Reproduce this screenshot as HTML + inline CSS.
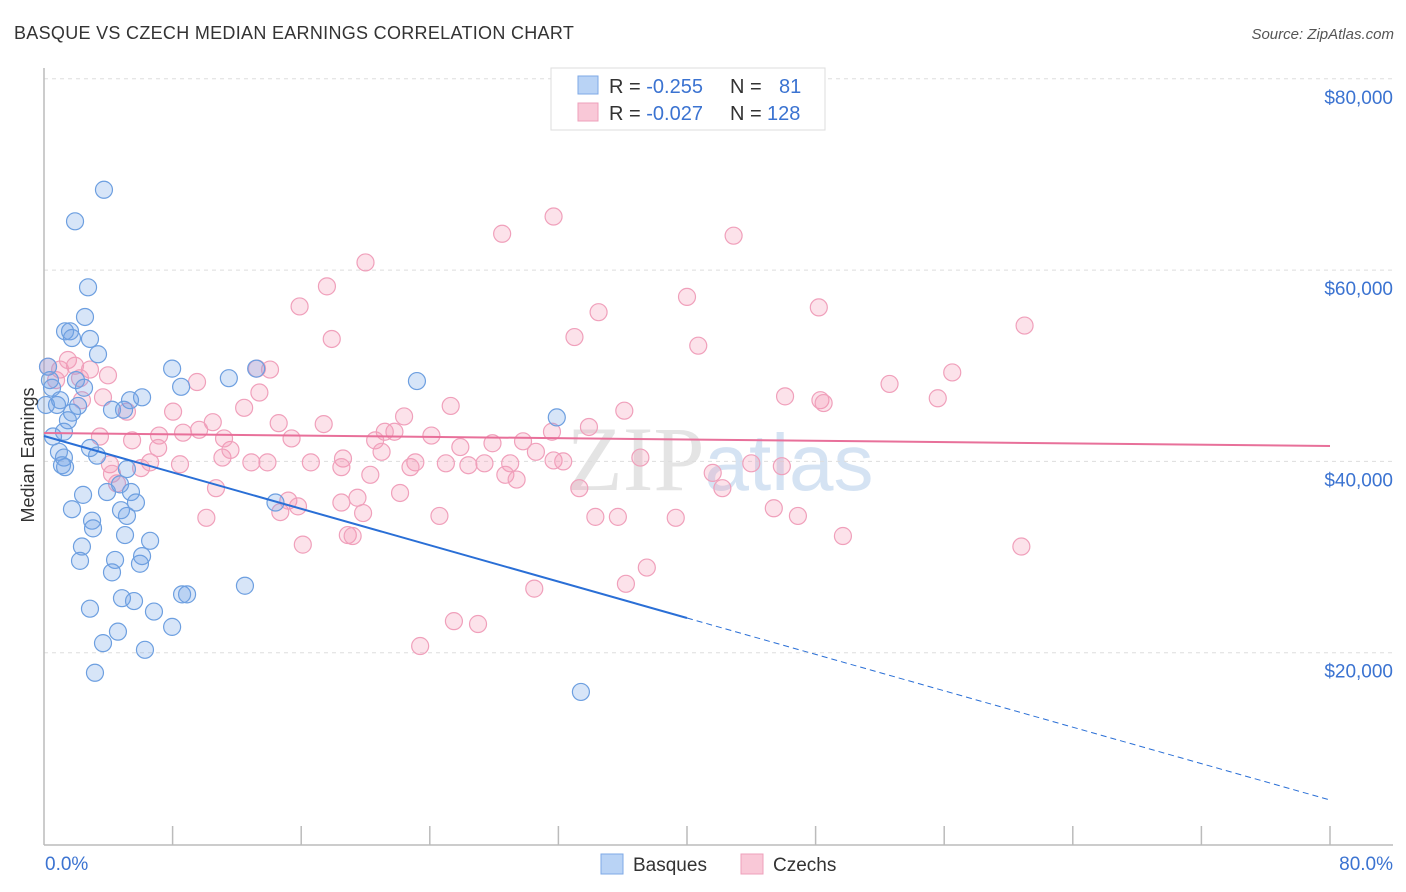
<!DOCTYPE html>
<html><head><meta charset="utf-8"><style>
body{margin:0;background:#fff;font-family:"Liberation Sans",sans-serif;}
svg{display:block}
</style></head><body>
<svg id="c" width="1406" height="892" xmlns="http://www.w3.org/2000/svg">
<text x="14" y="39" font-size="18" fill="#333" letter-spacing="0.3">BASQUE VS CZECH MEDIAN EARNINGS CORRELATION CHART</text>
<text x="1394" y="39" font-size="15" fill="#555" font-style="italic" text-anchor="end">Source: ZipAtlas.com</text>
<text x="720" y="490" font-size="92" fill="#e4e4e4" text-anchor="middle" font-family="Liberation Serif,serif">ZIP<tspan font-family="Liberation Sans,sans-serif" fill="#d5e3f3" font-size="80">atlas</tspan></text>
<g id="grid"></g>
<g id="axes"></g>
<g id="pts"></g>
<g id="trend"></g>
<text transform="translate(34,455) rotate(-90)" font-size="18" fill="#333" text-anchor="middle">Median Earnings</text>
<g>
<rect x="551" y="68" width="274" height="62" fill="#fff" stroke="#ddd"/>
<rect x="578" y="76" width="20" height="18" fill="#b9d3f5" stroke="#7ea8e6"/>
<rect x="578" y="103" width="20" height="18" fill="#f9c8d7" stroke="#eea0bb"/>
<text x="609" y="93" font-size="20" fill="#333">R = <tspan fill="#3b73d1">-0.255</tspan><tspan x="730">N =</tspan><tspan x="779" fill="#3b73d1">81</tspan></text>
<text x="609" y="120" font-size="20" fill="#333">R = <tspan fill="#3b73d1">-0.027</tspan><tspan x="730">N =</tspan><tspan x="767" fill="#3b73d1">128</tspan></text>
</g>
<g>
<rect x="601" y="854" width="22" height="20" fill="#b9d3f5" stroke="#7ea8e6"/>
<text x="633" y="871" font-size="19" fill="#333">Basques</text>
<rect x="741" y="854" width="22" height="20" fill="#f9c8d7" stroke="#eea0bb"/>
<text x="773" y="871" font-size="19" fill="#333">Czechs</text>
</g>
</svg>
<script>
const yTicks=[20000,40000,60000,80000];
const yTickLabels=["$20,000","$40,000","$60,000","$80,000"];
const xTickLabels=["0.0%","80.0%"];
const basqueX=[3.73,1.93,2.74,2.55,1.31,1.62,1.74,2.86,3.36,0.25,0.37,1.99,0.5,2.49,0.12,0.81,1.0,1.74,1.49,2.12,1.24,0.56,0.93,1.24,1.12,1.31,3.3,2.86,4.23,4.98,5.35,6.1,7.97,8.53,11.5,13.2,23.2,31.9,5.16,4.73,3.92,2.43,5.41,5.72,1.74,4.79,5.16,2.99,3.05,5.04,6.6,2.36,6.1,2.24,4.42,5.97,4.23,12.5,8.59,8.9,4.85,5.6,6.84,2.86,7.97,4.6,3.67,6.28,3.17,33.4,14.4];
const basqueY=[68.4,65.1,58.2,55.1,53.6,53.6,52.9,52.8,51.2,49.9,48.5,48.5,47.7,47.7,45.9,45.9,46.4,45.1,44.3,45.8,43.1,42.6,41.0,40.4,39.6,39.4,40.6,41.4,45.4,45.4,46.4,46.7,49.7,47.8,48.7,49.7,48.4,44.6,39.2,37.6,36.8,36.5,36.8,35.7,35.0,34.9,34.3,33.8,33.0,32.3,31.7,31.1,30.1,29.6,29.7,29.3,28.4,27.0,26.1,26.1,25.7,25.4,24.3,24.6,22.7,22.2,21.0,20.3,17.9,15.9,35.7];
const czechX=[31.7,28.5,20.0,42.9,17.6,15.9,34.5,40.0,48.2,33.0,17.9,40.7,61.0,0.25,1.0,1.49,1.93,2.86,0.75,2.24,3.98,9.52,13.25,14.06,56.5,52.6,46.1,48.3,48.5,55.6,25.3,36.1,33.9,13.4,3.67,2.36,5.16,8.03,10.5,12.45,14.6,17.4,22.4,24.1,21.8,21.2,20.6,15.4,8.65,7.16,5.48,3.48,25.9,27.9,29.8,31.6,37.1,44.0,45.9,41.6,42.2,30.6,29.0,28.7,29.4,27.4,25.0,23.1,22.8,21.0,18.6,20.3,18.5,16.6,13.9,12.9,11.1,11.6,9.65,11.2,8.46,6.6,7.1,4.1,6.04,4.54,4.23,10.7,10.1,14.7,15.2,15.8,18.5,19.5,19.85,22.15,24.6,33.3,34.3,35.7,39.3,45.4,46.9,49.7,60.8,16.1,18.9,19.2,37.5,30.5,36.2,25.5,27.0,23.4,31.7,26.4,32.3];
const czechY=[65.6,63.8,60.8,63.6,58.3,56.2,55.6,57.2,56.1,53.0,52.8,52.1,54.2,49.9,49.6,50.6,50.0,49.6,48.5,48.7,49.0,48.3,49.7,49.6,49.3,48.1,46.8,46.4,46.1,46.6,45.8,45.3,43.6,47.2,46.7,46.4,45.2,45.2,44.1,45.6,44.0,43.9,44.7,42.7,43.1,43.1,42.2,42.4,43.0,42.7,42.2,42.6,41.5,41.9,42.1,43.1,40.4,39.8,39.5,38.8,37.2,41.0,39.8,38.6,38.1,39.8,39.8,39.9,39.4,41.0,40.3,38.6,39.4,39.9,39.9,39.9,40.4,41.2,43.3,42.4,39.7,39.9,41.4,39.7,39.3,37.7,38.7,37.2,34.1,34.7,35.9,35.3,35.7,36.2,34.6,36.7,34.3,37.2,34.2,34.2,34.1,35.1,34.3,32.2,31.1,31.3,32.3,32.2,28.9,26.7,27.2,23.3,23.0,20.7,40.1,39.6,40.0];
const basqueTrend=[42655,4600];
const czechTrend=[42970,41610];
const NS="http://www.w3.org/2000/svg";
const X0=44,X1=1330,Y0=844,PXK=9.565;
const sx=p=>X0+(X1-X0)*p/80;
const sy=v=>Y0-v/1000*PXK;
function mk(tag,attrs,parent){const e=document.createElementNS(NS,tag);for(const k in attrs)e.setAttribute(k,attrs[k]);parent.appendChild(e);return e;}
const grid=document.getElementById('grid'),axes=document.getElementById('axes'),pts=document.getElementById('pts'),tr=document.getElementById('trend');
yTicks.forEach((v,i)=>{
  const l=mk('line',{x1:44,x2:1393,y1:sy(v),y2:sy(v),stroke:'#ddd','stroke-dasharray':'4,4'},grid);
  
  
  const t=mk('text',{x:1393,y:sy(v)+25,'font-size':19,fill:'#3b73d1','text-anchor':'end'},axes);
  t.textContent=yTickLabels[i];
  
  
});
let ax=mk('line',{x1:44,x2:44,y1:68,y2:845,stroke:'#bbb','stroke-width':1.5},axes);


let bx=mk('line',{x1:44,x2:1393,y1:845,y2:845,stroke:'#bbb','stroke-width':1.5},axes);


for(let p=8;p<=80;p+=8){
  const l=mk('line',{x1:sx(p),x2:sx(p),y1:826,y2:845,stroke:'#bbb','stroke-width':1.5},axes);
  
  
}
let t0=mk('text',{x:45,y:870,'font-size':19,fill:'#3b73d1'},axes);t0.textContent=xTickLabels[0];


let t1=mk('text',{x:1393,y:870,'font-size':19,fill:'#3b73d1','text-anchor':'end'},axes);t1.textContent=xTickLabels[1];


czechX.forEach((x,i)=>{
  const c=mk('circle',{cx:sx(x),cy:sy(czechY[i]*1000),r:8.5,fill:'rgba(244,150,180,0.28)',stroke:'#f0a0bb','stroke-width':1.2},pts);
  
  
});
basqueX.forEach((x,i)=>{
  const c=mk('circle',{cx:sx(x),cy:sy(basqueY[i]*1000),r:8.5,fill:'rgba(110,160,230,0.28)',stroke:'#6d9fe0','stroke-width':1.2},pts);
  
  
});
const bAt=p=>basqueTrend[0]+(basqueTrend[1]-basqueTrend[0])*p/80;
let bl=mk('line',{x1:sx(0),y1:sy(bAt(0)),x2:sx(40),y2:sy(bAt(40)),stroke:'#2a6fd6','stroke-width':2},tr);


let bd=mk('line',{x1:sx(40),y1:sy(bAt(40)),x2:sx(80),y2:sy(bAt(80)),stroke:'#2a6fd6','stroke-width':1,'stroke-dasharray':'6,4'},tr);


let cl=mk('line',{x1:sx(0),y1:sy(czechTrend[0]),x2:sx(80),y2:sy(czechTrend[1]),stroke:'#e8709a','stroke-width':2},tr);


</script>
</body></html>
